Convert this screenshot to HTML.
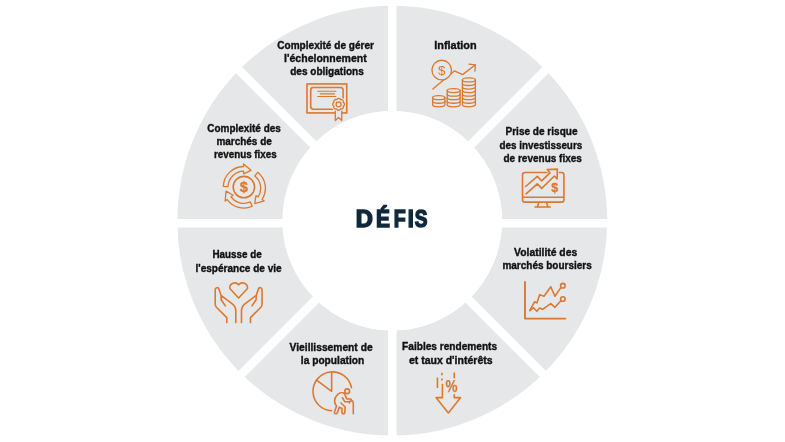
<!DOCTYPE html>
<html lang="fr">
<head>
<meta charset="utf-8">
<title>Défis</title>
<style>
html,body{margin:0;padding:0;background:#fff;}
body{width:785px;height:442px;overflow:hidden;}
svg{display:block;will-change:transform;}
text{font-family:"Liberation Sans",sans-serif;font-weight:bold;}
.lbl text{font-size:11.6px;fill:#111;stroke:#111;stroke-width:0.4px;}
.ico{fill:none;stroke:#dc7830;stroke-width:1.6;stroke-linecap:round;stroke-linejoin:round;}
.ico text{stroke:none;fill:#dc7830;text-anchor:middle;}
.g{fill:#e6e7e8;}
</style>
</head>
<body>
<svg width="785" height="442" viewBox="0 0 785 442">
<rect width="785" height="442" fill="#fff"/>
<!-- ring -->
<circle cx="392.25" cy="220.7" r="162.35" fill="none" stroke="#e6e7e8" stroke-width="105.1"/>
<!-- gaps -->
<g stroke="#fff" stroke-width="8.6">
<line x1="392.25" y1="0" x2="392.25" y2="442"/>
<line x1="160" y1="223.3" x2="625" y2="223.3"/>
<line x1="222.25" y1="53.30000000000001" x2="562.25" y2="393.3"/>
<line x1="222.25" y1="393.3" x2="562.25" y2="53.30000000000001"/>
</g>
<circle cx="392.25" cy="220.7" r="109.8" fill="#fff"/>
<text y="227.4" font-size="23.3" fill="#0f283b" stroke="#0f283b" stroke-width="1.5" stroke-linejoin="miter"><tspan x="355.66" textLength="17.11" lengthAdjust="spacingAndGlyphs">D</tspan><tspan x="375.95" textLength="13.94" lengthAdjust="spacingAndGlyphs">É</tspan><tspan x="393.64" textLength="11.95" lengthAdjust="spacingAndGlyphs">F</tspan><tspan x="407.70" textLength="6.02" lengthAdjust="spacingAndGlyphs">I</tspan><tspan x="414.80" textLength="12.72" lengthAdjust="spacingAndGlyphs">S</tspan></text>

<g class="lbl">
<text x="277.3" y="49.0" textLength="96.6" lengthAdjust="spacingAndGlyphs">Complexité de gérer</text>
<text x="284.1" y="62.1" textLength="82.6" lengthAdjust="spacingAndGlyphs">l'échelonnement</text>
<text x="290.2" y="75.0" textLength="73.6" lengthAdjust="spacingAndGlyphs">des obligations</text>
<text x="207.3" y="132.4" textLength="73.5" lengthAdjust="spacingAndGlyphs">Complexité des</text>
<text x="216.4" y="145.4" textLength="55.4" lengthAdjust="spacingAndGlyphs">marchés de</text>
<text x="214.0" y="158.4" textLength="62.7" lengthAdjust="spacingAndGlyphs">revenus fixes</text>
<text x="434.3" y="49.2" textLength="42.3" lengthAdjust="spacingAndGlyphs">Inflation</text>
<text x="505.5" y="135.2" textLength="72.0" lengthAdjust="spacingAndGlyphs">Prise de risque</text>
<text x="499.6" y="149.0" textLength="82.6" lengthAdjust="spacingAndGlyphs">des investisseurs</text>
<text x="503.5" y="162.0" textLength="78.4" lengthAdjust="spacingAndGlyphs">de revenus fixes</text>
<text x="514.1" y="256.1" textLength="63.1" lengthAdjust="spacingAndGlyphs">Volatilité des</text>
<text x="502.4" y="269.3" textLength="89.4" lengthAdjust="spacingAndGlyphs">marchés boursiers</text>
<text x="402.1" y="350.4" textLength="95.0" lengthAdjust="spacingAndGlyphs">Faibles rendements</text>
<text x="408.9" y="363.9" textLength="83.7" lengthAdjust="spacingAndGlyphs">et taux d'intérêts</text>
<text x="289.6" y="350.8" textLength="83.0" lengthAdjust="spacingAndGlyphs">Vieillissement de</text>
<text x="300.8" y="363.9" textLength="63.5" lengthAdjust="spacingAndGlyphs">la population</text>
<text x="212.5" y="258.4" textLength="49.3" lengthAdjust="spacingAndGlyphs">Hausse de</text>
<text x="195.5" y="271.8" textLength="86.2" lengthAdjust="spacingAndGlyphs">l'espérance de vie</text>
</g>
<g class="ico">
<rect x="306.99" y="83.93" width="39.75" height="28.99" style="stroke-linejoin:miter"/>
<rect x="310.72" y="87.55" width="32.39" height="21.63" rx="2.6"/>
<line x1="317.74" y1="91.29" x2="335.86" y2="91.29" style="stroke-width:1.1"/>
<line x1="320.24" y1="93.89" x2="334.51" y2="93.89" style="stroke-width:1.1"/>
<line x1="317.74" y1="96.5" x2="335.86" y2="96.5" style="stroke-width:1.1"/>
<path class="g" d="M335.30,108.84 L335.30,120.51 L338.58,117.45 L341.75,120.51 L341.75,108.84Z" style="stroke-width:1.3"/>
<path d="M343.20,106.22 A2.05,2.05 0 0 1 340.49,108.93 A2.05,2.05 0 0 1 336.67,108.93 A2.05,2.05 0 0 1 333.96,106.22 A2.05,2.05 0 0 1 333.96,102.40 A2.05,2.05 0 0 1 336.67,99.69 A2.05,2.05 0 0 1 340.49,99.69 A2.05,2.05 0 0 1 343.20,102.40 A2.05,2.05 0 0 1 343.20,106.22Z" fill="#e6e7e8" stroke="#e6e7e8" stroke-width="3.2"/>
<path d="M343.20,106.22 A2.05,2.05 0 0 1 340.49,108.93 A2.05,2.05 0 0 1 336.67,108.93 A2.05,2.05 0 0 1 333.96,106.22 A2.05,2.05 0 0 1 333.96,102.40 A2.05,2.05 0 0 1 336.67,99.69 A2.05,2.05 0 0 1 340.49,99.69 A2.05,2.05 0 0 1 343.20,102.40 A2.05,2.05 0 0 1 343.20,106.22Z" class="g" style="stroke-width:1.3"/>
<circle cx="338.58" cy="104.31" r="2.5" style="stroke-width:1.3"/>
</g>
<g class="ico">
<circle cx="243.9" cy="187.1" r="10.7"/>
<text x="243.9" y="192.1" font-size="14.5" style="stroke:#dc7830;stroke-width:0.35">$</text>
<path d="M228.01,186.55 L223.31,186.38 A20.6,20.6 0 0 1 243.54,166.50 L243.50,163.90 L251.03,170.30 L243.67,173.80 L243.62,171.20 A15.9,15.9 0 0 0 228.01,186.55Z" transform="translate(0,0)" style="stroke-width:1.3"/>
<path d="M253.91,174.74 L256.86,171.09 A20.6,20.6 0 0 1 261.18,198.32 L263.36,199.74 L253.84,202.41 L255.05,194.34 L257.23,195.76 A15.9,15.9 0 0 0 253.91,174.74Z" transform="translate(0.9,1.2)" style="stroke-width:1.3"/>
<path d="M250.37,201.63 L252.28,205.92 A20.6,20.6 0 0 1 227.23,199.21 L225.13,200.74 L226.05,190.89 L233.14,194.92 L231.04,196.45 A15.9,15.9 0 0 0 250.37,201.63Z" transform="translate(0,0.3)" style="stroke-width:1.3"/>
</g>
<g class="ico">
<path d="M432.85,89.05 L454.36,70.96 L462.67,74.63 L475.39,64.85" style="stroke-width:1.3"/>
<path d="M469.03,64.11 L475.39,64.85 L474.90,71.20" style="stroke-width:1.3"/>
<circle class="g" cx="441.71" cy="70.04" r="9.8" style="stroke-width:1.3"/>
<text x="441.71" y="74.64" font-size="13.5" style="font-weight:normal">$</text>
<path class="g" d="M432.60,97.70 V104.80 A6.15,2.0 0 0 0 444.90,104.80 V97.70" style="stroke-width:1.3"/><path d="M432.60,101.25 A6.15,2.0 0 0 0 444.90,101.25" style="stroke-width:1.3"/><ellipse class="g" cx="438.75" cy="97.70" rx="6.15" ry="2.0" style="stroke-width:1.3"/>
<path class="g" d="M447.20,90.60 V104.80 A6.45,2.0 0 0 0 460.10,104.80 V90.60" style="stroke-width:1.3"/><path d="M447.20,94.15 A6.45,2.0 0 0 0 460.10,94.15" style="stroke-width:1.3"/><path d="M447.20,97.70 A6.45,2.0 0 0 0 460.10,97.70" style="stroke-width:1.3"/><path d="M447.20,101.25 A6.45,2.0 0 0 0 460.10,101.25" style="stroke-width:1.3"/><ellipse class="g" cx="453.65" cy="90.60" rx="6.45" ry="2.0" style="stroke-width:1.3"/>
<path class="g" d="M462.40,79.95 V104.80 A6.50,2.0 0 0 0 475.40,104.80 V79.95" style="stroke-width:1.3"/><path d="M462.40,83.50 A6.50,2.0 0 0 0 475.40,83.50" style="stroke-width:1.3"/><path d="M462.40,87.05 A6.50,2.0 0 0 0 475.40,87.05" style="stroke-width:1.3"/><path d="M462.40,90.60 A6.50,2.0 0 0 0 475.40,90.60" style="stroke-width:1.3"/><path d="M462.40,94.15 A6.50,2.0 0 0 0 475.40,94.15" style="stroke-width:1.3"/><path d="M462.40,97.70 A6.50,2.0 0 0 0 475.40,97.70" style="stroke-width:1.3"/><path d="M462.40,101.25 A6.50,2.0 0 0 0 475.40,101.25" style="stroke-width:1.3"/><ellipse class="g" cx="468.90" cy="79.95" rx="6.50" ry="2.0" style="stroke-width:1.3"/>
</g>
<g class="ico">
<rect x="522.51" y="172.56" width="41.42" height="29.60" rx="2.4"/>
<line x1="522.51" y1="197.31" x2="563.93" y2="197.31" stroke-linecap="butt"/>
<path d="M538.81,202.54 L537.56,206.77 M546.52,202.54 L547.76,206.77 M535.07,207.01 L550.25,207.01"/>
<path d="M525.62,186.49 L537.31,176.42 L541.67,180.90 L550.00,172.94 L547.26,169.45 L557.34,169.08 L557.21,178.91 L554.35,176.04 L541.67,188.36 L537.31,183.88 L526.12,193.83" fill="#e6e7e8" stroke="#e6e7e8" stroke-width="3.2"/>
<path class="g" d="M525.62,186.49 L537.31,176.42 L541.67,180.90 L550.00,172.94 L547.26,169.45 L557.34,169.08 L557.21,178.91 L554.35,176.04 L541.67,188.36 L537.31,183.88 L526.12,193.83"/>
<text x="554.73" y="192.21" font-size="12.5" style="stroke:#dc7830;stroke-width:0.3">$</text>
</g>
<g class="ico">
<path d="M524.97,282.02 L524.97,318.60 L565.40,318.60" style="stroke-width:1.9"/>
<path d="M529.75,310.51 L534.51,301.79 L536.89,302.98 L539.66,294.66 L544.02,296.24 L550.75,286.74 L554.95,296.24 L560.66,287.92"/>
<path d="M529.75,310.51 L533.48,307.73 L536.89,311.30 L539.66,307.97 L542.59,309.32 L550.75,303.61 L554.95,307.34 L560.66,300.92"/>
<circle cx="562.88" cy="285.71" r="2.3"/>
<circle cx="562.88" cy="299.02" r="2.3"/>
</g>
<g class="ico" style="stroke-linecap:butt">
<path d="M442.42,383.68 L442.42,397.63 L436.19,397.63 L448.39,412.95 L460.47,397.63 L454.25,397.63 L454.25,394.27"/>
<path d="M437.43,377.45 L437.43,388.04 M441.92,372.72 L441.92,375.21 M441.92,378.45 L441.92,380.44 M454.25,372.47 L454.25,378.20"/>
<text x="445.4" y="391.65" font-size="16" textLength="12" lengthAdjust="spacingAndGlyphs" style="text-anchor:start;stroke:#dc7830;stroke-width:0.25">%</text>
</g>
<g class="ico">
<path d="M331.65,410.68 A19.4,19.4 0 1 1 351.45,387.67"/>
<path d="M331.65,371.88 L331.65,391.28 L316.58,380.19"/>
<circle class="g" cx="347.22" cy="391.24" r="2.35"/>
<path class="g" d="M 344.18,393.26 C 341.58,391.81 338.32,393.41 336.51,395.72 C 334.2,398.83 333.98,401.73 335.64,404.62 L 336.51,406.07 L 334.49,412.08 Q 334.2,413.81 335.79,413.81 Q 337.09,413.81 337.45,412.51 L 339.26,407.15 L 342.01,408.46 L 341.87,412.36 Q 341.87,413.81 343.31,413.81 Q 344.76,413.81 344.83,412.36 L 345.2,407.01 L 341.0,402.96"/>
<path class="g" d="M 344.18,393.26 L 346.79,398.83 L 350.41,399.05 Q 351.71,399.34 351.42,400.64 Q 351.13,401.8 349.68,401.8 L 344.83,401.8 L 342.45,397.75"/>
<path d="M 349.39,402.96 L 349.39,401.22 M 351.42,400.35 Q 353.3,400.79 353.3,402.96 L 353.3,413.67"/>
</g>
<g class="ico">
<path d="M238.64,298.04 L229.81,288.44 A4.99,4.99 0 0 1 238.64,284.79 A4.99,4.99 0 0 1 247.47,288.44 Z"/>
<path d="M221.2,299.8 L221.0,295.3 L218.9,289.0 A1.9,1.9 0 0 0 215.2,289.4 L215.2,304.0 Q215.3,306 216.4,307.2 L226.8,317.6 L226.8,322.6 M225.3,305.9 L221.2,299.8 M221.0,295.3 L232.3,303.8 Q235.8,306.6 235.8,310.8 L235.8,322.6"/>
<path d="M256.08,299.8 L256.28,295.3 L258.38,289.0 A1.9,1.9 0 0 1 262.08,289.4 L262.08,304.0 Q261.98,306 260.88,307.2 L250.48,317.6 L250.48,322.6 M251.98,305.9 L256.08,299.8 M256.28,295.3 L244.98,303.8 Q241.48,306.6 241.48,310.8 L241.48,322.6"/>
</g>
</svg>
</body>
</html>
